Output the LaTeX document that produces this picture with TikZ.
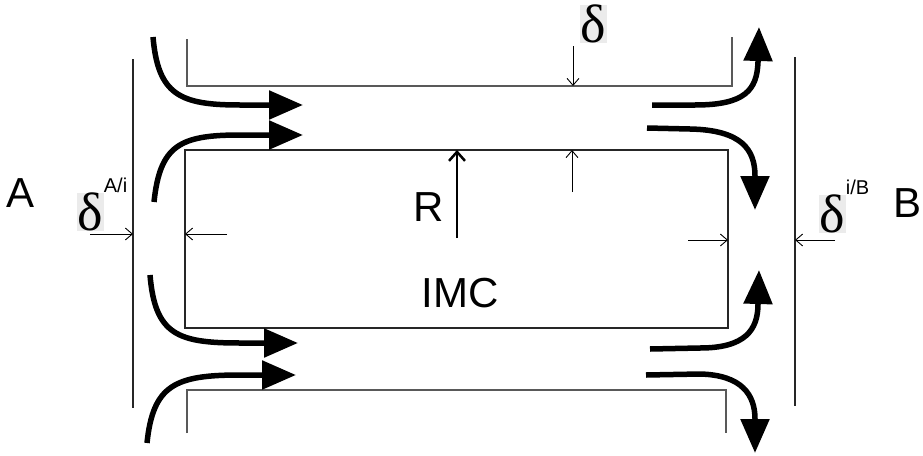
\documentclass[tikz,border=0pt]{standalone}
\usepackage{fontspec}
\setmainfont{Liberation Sans}
\newfontfamily\greekfont{Liberation Serif}
\usetikzlibrary{arrows.meta,positioning}

\tikzset{
  flow/.style={line width=5.5pt, -{Triangle[length=34pt,width=28pt]}},
  dim/.style={line width=0.9pt, -{Straight Barb[length=7pt,width=12pt]}},
  wall/.style={line width=2pt, draw=black!65},
  bound/.style={line width=1.4pt, draw=black!85},
  big/.style={font=\fontsize{42}{42}\selectfont, inner sep=0pt},
  dlt/.style={font=\greekfont\fontsize{54}{54}\selectfont, fill=black!8,
    inner sep=0pt, minimum width=27pt, minimum height=38pt},
  sup/.style={font=\fontsize{20}{20}\selectfont, inner sep=0pt},
}

\begin{document}
\begin{tikzpicture}[x=1pt,y=-1pt]
  \useasboundingbox (0,0) rectangle (923,455);
  % channel walls, IMC block and the two phase boundaries
  \draw[wall] (187,39) -- (187,86) -- (732,86) -- (732,37);     % upper wall
  \draw[wall] (187,433) -- (187,390) -- (726,390) -- (726,433); % lower wall
  \draw[bound] (185,150) rectangle (728,328);                    % IMC
  \draw[bound] (133,59) -- (133,408);                            % A side
  \draw[bound] (795,57) -- (795,406);                            % B side
  % inflow on the A side
  \draw[flow] (153,37) .. controls (158,95) and (180,105) .. (240,105) -- (303,105);
  \draw[flow] (154,202) .. controls (160,145) and (180,135) .. (240,135) -- (303,135);
  \draw[flow] (150,275) .. controls (155,335) and (178,343) .. (240,343) -- (298,343);
  \draw[flow] (147,443) .. controls (153,385) and (175,375) .. (240,375) -- (296,375);
  % outflow on the B side
  \draw[flow] (652,105) -- (695,105) .. controls (745,105) and (757,90) .. (758,62) -- (759,27);
  \draw[flow] (647,128) -- (690,129) .. controls (742,130) and (755,150) .. (755,176) -- (755,210);
  \draw[flow] (650,349) -- (700,348) .. controls (745,348) and (758,330) .. (758,304) -- (759,270);
  \draw[flow] (646,375) -- (700,374) .. controls (742,375) and (755,395) .. (755,419) -- (755,453);
  % thickness marks
  \draw[dim] (90,234) -- (133,234);
  \draw[dim] (227,234) -- (185,234);
  \draw[dim] (688,240) -- (728,240);
  \draw[dim] (835,240) -- (795,240);
  \draw[dim] (573,46) -- (573,86);
  \draw[dim] (572,192) -- (572,150);
  \draw[line width=2.5pt, -{Straight Barb[length=9pt,width=16pt]}] (457,238) -- (457,150);
  % labels
  \node[big] (phaseA) at (21,193) {A};
  \node[big] (phaseB) at (907,203) {B};
  \node[big] (rad) at (429,207) {R};
  \node[big] (imc) at (460,293) {IMC};
  \node[dlt] (dAi) at (90,212) {δ};
  \node[sup, anchor=south west] (supAi) at (dAi.north east) {A/i};
  \node[dlt] (dIB) at (832,214) {δ};
  \node[sup, anchor=south west] (supIB) at (dIB.north east) {i/B};
  \node[dlt] (dTop) at (593,24) {δ};
\end{tikzpicture}
\end{document}
